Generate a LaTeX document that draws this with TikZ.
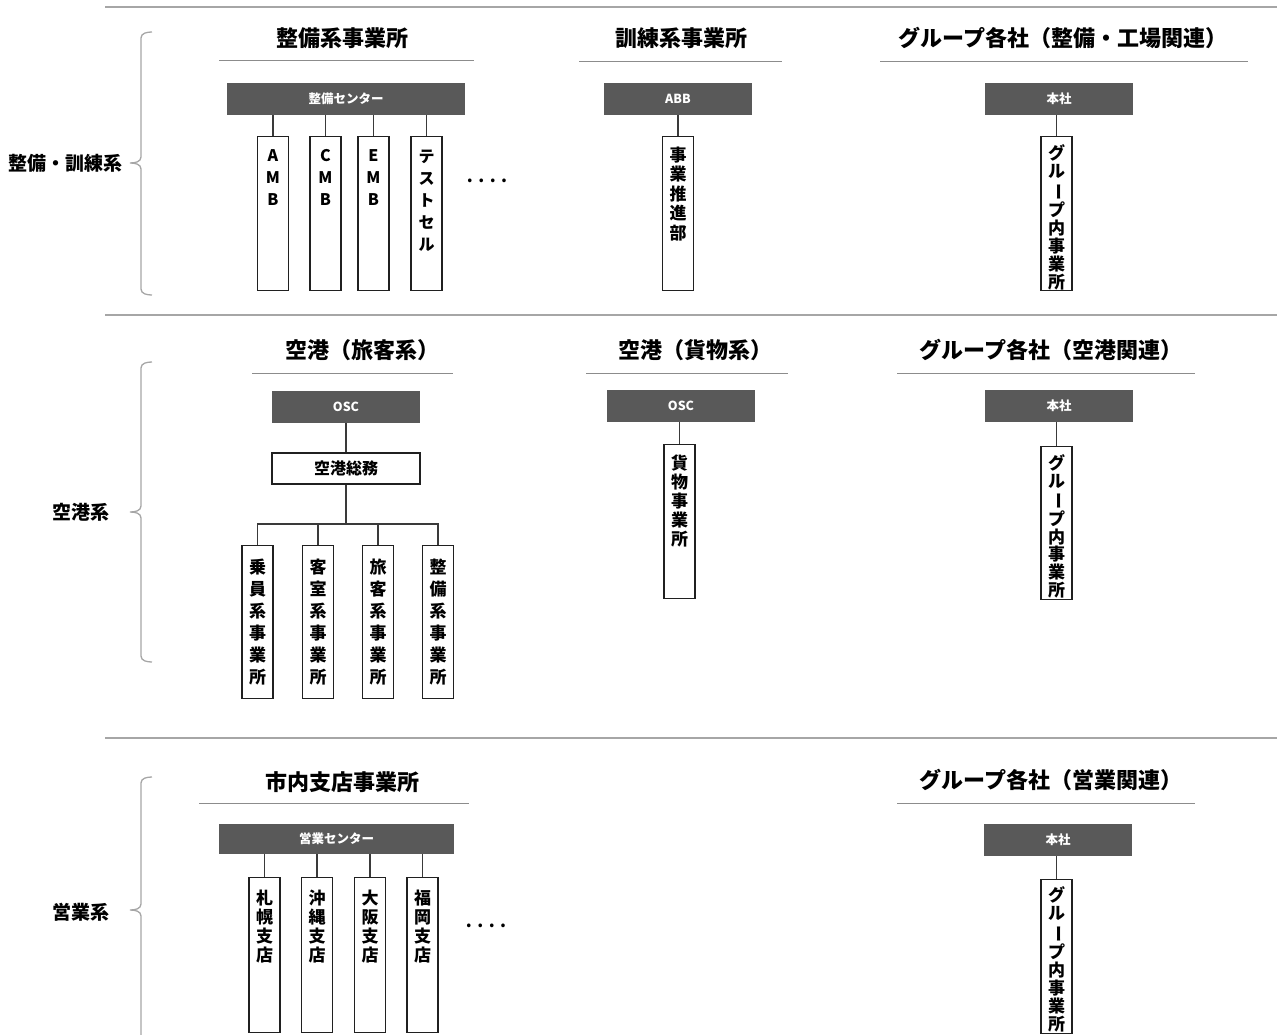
\documentclass[tikz,border=0pt]{standalone}
\usepackage{fontspec}
\setmainfont{Noto Sans CJK JP}
\usepackage{graphicx}
\definecolor{barc}{HTML}{595959}
\definecolor{sepc}{HTML}{A6A6A6}
\definecolor{ulc}{HTML}{8C8C8C}
\definecolor{boxc}{HTML}{202020}
\definecolor{conc}{HTML}{3A3A3A}
\newcommand\vbar{\rotatebox[origin=c]{-90}{ー}}
\newcommand\tatebox[4]{\parbox[c][#1][t]{28pt}{\centering\fontsize{#2}{#3}\selectfont\bfseries #4}}
\newcommand\fourdots{.\hspace{5.5pt}.\hspace{5.5pt}.\hspace{5.5pt}.}
\tikzset{
  title/.style={font=\bfseries\fontsize{22}{26}\selectfont, inner sep=0pt},
  sect/.style={font=\bfseries\fontsize{19}{22}\selectfont, inner sep=0pt},
  uline/.style={draw=ulc, line width=1pt},
  sepline/.style={draw=sepc, line width=1.6pt},
  bracec/.style={draw=sepc, line width=1.3pt},
  bar/.style={fill=barc, draw=none, text=white, font=\bfseries\fontsize{12.5}{14}\selectfont, inner sep=0pt},
  plainbox/.style={fill=white, draw=boxc, line width=1.1pt, font=\bfseries\fontsize{16}{18}\selectfont, inner sep=0pt},
  tate/.style={draw=boxc, line width=1.1pt, fill=white, anchor=north, inner xsep=1.5pt},
  conn/.style={draw=conc, line width=1.2pt},
  dots/.style={font=\bfseries\fontsize{17}{20}\selectfont, inner sep=0pt}
}
\begin{document}
\begin{tikzpicture}[x=1pt,y=-1pt]
\useasboundingbox (0,0) rectangle (1277,1035);
% separators
\draw[sepline] (105,7) -- (1277,7);
\draw[sepline] (105,315) -- (1277,315);
\draw[sepline] (105,738) -- (1277,738);
% braces
\draw[bracec] (152,32) to[out=180,in=90] (141,38) -- (141,157) to[out=-90,in=0] (130,163) to[out=0,in=90] (141,169) -- (141,289) to[out=-90,in=180] (152,295);
\draw[bracec] (152,362) to[out=180,in=90] (141,368) -- (141,506) to[out=-90,in=0] (130,512) to[out=0,in=90] (141,518) -- (141,656) to[out=-90,in=180] (152,662);
\draw[bracec] (152,777) to[out=180,in=90] (141,783) -- (141,904) to[out=-90,in=0] (130,910) to[out=0,in=90] (141,916) -- (141,1036);
% section labels
\node[sect] (l1) at (66,163) {整備・訓練系};
\node[sect] (l2) at (81,512) {空港系};
\node[sect] (l3) at (81,912) {営業系};

% ===== Section 1 =====
\node[title] (t1) at (342,38) {整備系事業所};
\draw[uline] (219,61) -- (474,61);
\node[bar, minimum width=238, minimum height=32] (c1) at (346,99) {整備センター};
\node[tate, inner ysep=13pt] (a1) at (273,136) {\tatebox{128pt}{16}{22}{A\\M\\B}};
\node[tate, inner ysep=13pt] (a2) at (325.5,136) {\tatebox{128pt}{16}{22}{C\\M\\B}};
\node[tate, inner ysep=13pt] (a3) at (373.5,136) {\tatebox{128pt}{16}{22}{E\\M\\B}};
\node[tate, inner ysep=13pt] (a4) at (426.5,136) {\tatebox{128pt}{16}{22}{テ\\ス\\ト\\セ\\ル}};
\foreach \n in {a1,a2,a3,a4} \draw[conn] (c1.south -| \n.north) -- (\n.north);
\node[dots] (d1) at (487,181) {\fourdots};

\node[title] (t2) at (681,38) {訓練系事業所};
\draw[uline] (579,62) -- (782,62);
\node[bar, minimum width=148, minimum height=32] (c2) at (678,99) {ABB};
\node[tate, inner ysep=10pt] (a5) at (678,136) {\tatebox{134pt}{17}{19.5}{事\\業\\推\\進\\部}};
\draw[conn] (c2.south -| a5.north) -- (a5.north);

\node[title] (t3) at (1063,38) {グループ各社（整備・工場関連）};
\draw[uline] (880,62) -- (1248,62);
\node[bar, minimum width=148, minimum height=32] (c3) at (1059,99) {本社};
\node[tate, inner ysep=8pt] (a6) at (1056.5,136) {\tatebox{138pt}{17}{18.2}{グ\\ル\\\vbar\\プ\\内\\事\\業\\所}};
\draw[conn] (c3.south -| a6.north) -- (a6.north);

% ===== Section 2 =====
\node[title] (t4) at (362,350) {空港（旅客系）};
\draw[uline] (252,373) -- (453,373);
\node[bar, minimum width=148, minimum height=32] (c4) at (346,407) {OSC};
\node[plainbox, minimum width=148, minimum height=31] (s1) at (346,468.5) {空港総務};
\draw[conn] (c4.south) -- (s1.north);
\coordinate (bus) at (346,524);
\node[tate, inner ysep=13pt] (k1) at (257.5,545) {\tatebox{127pt}{17}{22}{乗\\員\\系\\事\\業\\所}};
\node[tate, inner ysep=13pt] (k2) at (318,545) {\tatebox{127pt}{17}{22}{客\\室\\系\\事\\業\\所}};
\node[tate, inner ysep=13pt] (k3) at (378,545) {\tatebox{127pt}{17}{22}{旅\\客\\系\\事\\業\\所}};
\node[tate, inner ysep=13pt] (k4) at (438,545) {\tatebox{127pt}{17}{22}{整\\備\\系\\事\\業\\所}};
\draw[conn] (s1.south) -- (bus);
\draw[conn] (k1.north) -- (k1.north |- bus) -- (k4.north |- bus) -- (k4.north);
\draw[conn] (k2.north) -- (k2.north |- bus);
\draw[conn] (k3.north) -- (k3.north |- bus);

\node[title] (t5) at (695,350) {空港（貨物系）};
\draw[uline] (586,373) -- (788,373);
\node[bar, minimum width=148, minimum height=32] (c5) at (681,406) {OSC};
\node[tate, inner ysep=10pt] (k5) at (679.5,444) {\tatebox{134pt}{17}{19}{貨\\物\\事\\業\\所}};
\draw[conn] (c5.south -| k5.north) -- (k5.north);

\node[title] (t6) at (1051,350) {グループ各社（空港関連）};
\draw[uline] (897,373) -- (1195,373);
\node[bar, minimum width=148, minimum height=32] (c6) at (1059,406) {本社};
\node[tate, inner ysep=8pt] (k6) at (1056.5,446) {\tatebox{137pt}{17}{17.8}{グ\\ル\\\vbar\\プ\\内\\事\\業\\所}};
\draw[conn] (c6.south -| k6.north) -- (k6.north);

% ===== Section 3 =====
\node[title] (t7) at (342,782) {市内支店事業所};
\draw[uline] (199,803) -- (469,803);
\node[bar, minimum width=235, minimum height=30] (c7) at (336.5,839) {営業センター};
\node[tate, inner ysep=12pt] (m1) at (264.5,877) {\tatebox{131pt}{17}{19}{札\\幌\\支\\店}};
\node[tate, inner ysep=12pt] (m2) at (317,877) {\tatebox{131pt}{17}{19}{沖\\縄\\支\\店}};
\node[tate, inner ysep=12pt] (m3) at (370,877) {\tatebox{131pt}{17}{19}{大\\阪\\支\\店}};
\node[tate, inner ysep=12pt] (m4) at (422.5,877) {\tatebox{131pt}{17}{19}{福\\岡\\支\\店}};
\foreach \n in {m1,m2,m3,m4} \draw[conn] (c7.south -| \n.north) -- (\n.north);
\node[dots] (d2) at (486,926) {\fourdots};

\node[title] (t8) at (1051,780) {グループ各社（営業関連）};
\draw[uline] (897,803) -- (1195,803);
\node[bar, minimum width=148, minimum height=32] (c8) at (1058,840) {本社};
\node[tate, inner ysep=7pt] (m5) at (1056.5,879) {\tatebox{140pt}{17}{18.2}{グ\\ル\\\vbar\\プ\\内\\事\\業\\所}};
\draw[conn] (c8.south -| m5.north) -- (m5.north);
\end{tikzpicture}
\end{document}
